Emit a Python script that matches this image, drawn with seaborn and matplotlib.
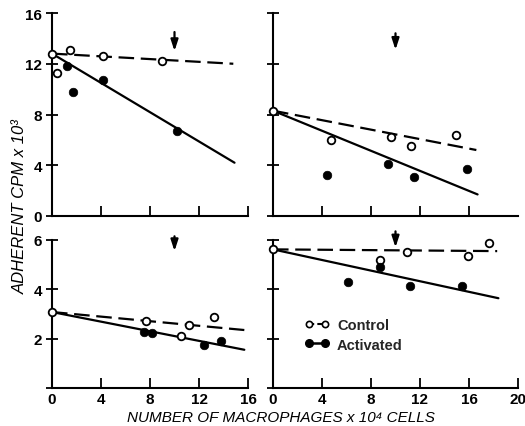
import matplotlib
matplotlib.use("Agg")
import matplotlib.pyplot as plt
import seaborn as sns
import numpy as np
import pandas as pd
from matplotlib.lines import Line2D

sns.set_theme(style="ticks")
plt.rcParams['font.family'] = ['Liberation Sans', 'DejaVu Sans']

# ---- data ----
# top-left
tl_ctrl_x = [0, 0.4, 1.5, 4.2, 9.0]
tl_ctrl_y = [12.8, 11.3, 13.1, 12.6, 12.2]
tl_act_x = [1.2, 1.7, 4.2, 10.2]
tl_act_y = [11.8, 9.8, 10.7, 6.7]
tl_ctrl_fit_x = [0, 14.8]
tl_ctrl_fit_y = [12.8, 12.0]
tl_act_fit_x = [0, 14.9]
tl_act_fit_y = [12.8, 4.2]

# top-right
tr_ctrl_x = [0, 4.7, 9.6, 11.3, 14.9]
tr_ctrl_y = [8.3, 6.0, 6.2, 5.5, 6.4]
tr_act_x = [4.4, 9.4, 11.5, 15.8]
tr_act_y = [3.2, 4.1, 3.1, 3.7]
tr_ctrl_fit_x = [0, 16.6]
tr_ctrl_fit_y = [8.3, 5.2]
tr_act_fit_x = [0, 16.7]
tr_act_fit_y = [8.3, 1.7]

# bottom-left
bl_ctrl_x = [0, 7.7, 11.2, 10.5, 13.2]
bl_ctrl_y = [3.08, 2.7, 2.55, 2.1, 2.87]
bl_act_x = [7.5, 8.2, 12.4, 13.8]
bl_act_y = [2.27, 2.22, 1.74, 1.9]
bl_ctrl_fit_x = [0, 15.7]
bl_ctrl_fit_y = [3.08, 2.35]
bl_act_fit_x = [0, 15.7]
bl_act_fit_y = [3.08, 1.55]

# bottom-right
br_ctrl_x = [0, 8.7, 10.9, 15.9, 17.6]
br_ctrl_y = [5.62, 5.18, 5.5, 5.35, 5.87]
br_act_x = [8.7, 6.1, 11.2, 15.4]
br_act_y = [4.9, 4.3, 4.13, 4.13]
br_ctrl_fit_x = [0, 18.3]
br_ctrl_fit_y = [5.62, 5.55]
br_act_fit_x = [0, 18.4]
br_act_fit_y = [5.62, 3.64]

arrow_x = 10
tl_arrow = [14.5, 13.0]
tr_arrow = [14.4, 13.1]
bl_arrow = [6.15, 5.55]
br_arrow = [6.35, 5.7]

y_label = "ADHERENT CPM x 10\u00b3"
x_label = "NUMBER OF MACROPHAGES x 10\u2074 CELLS"
legend_labels = ["Control", "Activated"]

# ---- figure ----
fig = plt.figure(figsize=(5.25, 4.27), dpi=100)
fig.patch.set_facecolor("white")
W, H = 525, 427

def axpos(x0, x1, ytop, ybot):
    return [x0 / W, (H - ybot) / H, (x1 - x0) / W, (ybot - ytop) / H]

ax_tl = fig.add_axes(axpos(52, 248, 14, 217))
ax_tr = fig.add_axes(axpos(273, 518, 14, 217))
ax_bl = fig.add_axes(axpos(52, 248, 241, 389))
ax_br = fig.add_axes(axpos(273, 518, 241, 389))

K = "black"
LW = 1.6

def panel(ax, cx, cy, ax_, ay, cfx, cfy, afx, afy, arrow):
    sns.lineplot(x=cfx, y=cfy, ax=ax, color=K, lw=LW, dashes=False,
                 linestyle=(0, (7, 3)), clip_on=False)
    sns.lineplot(x=afx, y=afy, ax=ax, color=K, lw=LW, clip_on=False)
    sns.scatterplot(x=cx, y=cy, ax=ax, marker="o", s=30, facecolor="white",
                    edgecolor=K, linewidth=1.3, zorder=5, clip_on=False)
    sns.scatterplot(x=ax_, y=ay, ax=ax, marker="o", s=38, color=K,
                    edgecolor=K, linewidth=0.5, zorder=5, clip_on=False)
    ax.annotate("", xy=(arrow_x, arrow[1]), xytext=(arrow_x, arrow[0]),
                arrowprops=dict(arrowstyle="-|>,head_length=0.55,head_width=0.18",
                                color=K, lw=1.6, shrinkA=0, shrinkB=0),
                annotation_clip=False)
    for s in ["top", "right"]:
        ax.spines[s].set_visible(False)
    for s in ["left", "bottom"]:
        ax.spines[s].set_color(K)
        ax.spines[s].set_linewidth(1.5)
    ax.set_facecolor("white")
    ax.tick_params(axis="x", direction="in", length=7, width=1.3, color=K,
                   labelsize=11, pad=3, labelcolor=K)
    ax.tick_params(axis="y", direction="inout", length=8, width=1.3, color=K,
                   labelsize=11, pad=3, labelcolor=K)
    ax.set_xlabel("")
    ax.set_ylabel("")

panel(ax_tl, tl_ctrl_x, tl_ctrl_y, tl_act_x, tl_act_y, tl_ctrl_fit_x, tl_ctrl_fit_y,
      tl_act_fit_x, tl_act_fit_y, tl_arrow)
panel(ax_tr, tr_ctrl_x, tr_ctrl_y, tr_act_x, tr_act_y, tr_ctrl_fit_x, tr_ctrl_fit_y,
      tr_act_fit_x, tr_act_fit_y, tr_arrow)
panel(ax_bl, bl_ctrl_x, bl_ctrl_y, bl_act_x, bl_act_y, bl_ctrl_fit_x, bl_ctrl_fit_y,
      bl_act_fit_x, bl_act_fit_y, bl_arrow)
panel(ax_br, br_ctrl_x, br_ctrl_y, br_act_x, br_act_y, br_ctrl_fit_x, br_ctrl_fit_y,
      br_act_fit_x, br_act_fit_y, br_arrow)

for ax in (ax_tl, ax_bl):
    ax.set_xlim(0, 16)
for ax in (ax_tr, ax_br):
    ax.set_xlim(0, 20)
for ax in (ax_tl, ax_tr):
    ax.set_ylim(0, 16)
    ax.set_yticks([0, 4, 8, 12, 16])
for ax in (ax_bl, ax_br):
    ax.set_ylim(0, 6)
    ax.set_yticks([0, 2, 4, 6])

ax_tl.set_xticks([0, 4, 8, 12, 16])
ax_tl.set_xticklabels([])
ax_tl.set_yticklabels(["0", "4", "8", "12", "16"])
ax_tr.set_xticks([0, 4, 8, 12, 16])
ax_tr.set_xticklabels([])
ax_tr.set_yticklabels([])
ax_bl.set_xticks([0, 4, 8, 12, 16])
ax_bl.set_xticklabels(["0", "4", "8", "12", "16"])
ax_bl.set_yticklabels(["", "2", "4", "6"])
ax_br.set_xticks([0, 4, 8, 12, 16, 20])
ax_br.set_xticklabels(["0", "4", "8", "12", "16", "20"])
ax_br.set_yticklabels([])

for ax in (ax_tl, ax_tr, ax_bl, ax_br):
    for lab in ax.get_xticklabels() + ax.get_yticklabels():
        lab.set_fontweight("bold")

handles = [
    Line2D([0, 1], [0, 0], color=K, lw=1.5, linestyle=(0, (2.5, 1.5)), marker="o",
           markersize=4.5, markerfacecolor="white", markeredgecolor=K, markeredgewidth=1.2),
    Line2D([0, 1], [0, 0], color=K, lw=1.8, marker="o", markersize=5.5,
           markerfacecolor=K, markeredgecolor=K),
]
ax_br.legend(handles, legend_labels, loc="upper left", bbox_to_anchor=(0.13, 0.47),
             frameon=False, numpoints=2, handlelength=1.7, handletextpad=0.5,
             labelspacing=0.35, borderpad=0, borderaxespad=0,
             prop=dict(size=10.5, weight="bold"))

fig.text(20 / W, 1 - 207 / H, y_label, rotation=90, ha="center", va="center",
         fontsize=12, fontstyle="italic", color=K)
fig.text(281 / W, 1 - 418 / H, x_label, ha="center", va="center",
         fontsize=11, fontstyle="italic", color=K)

fig.savefig("out.png", dpi=100, facecolor="white")
